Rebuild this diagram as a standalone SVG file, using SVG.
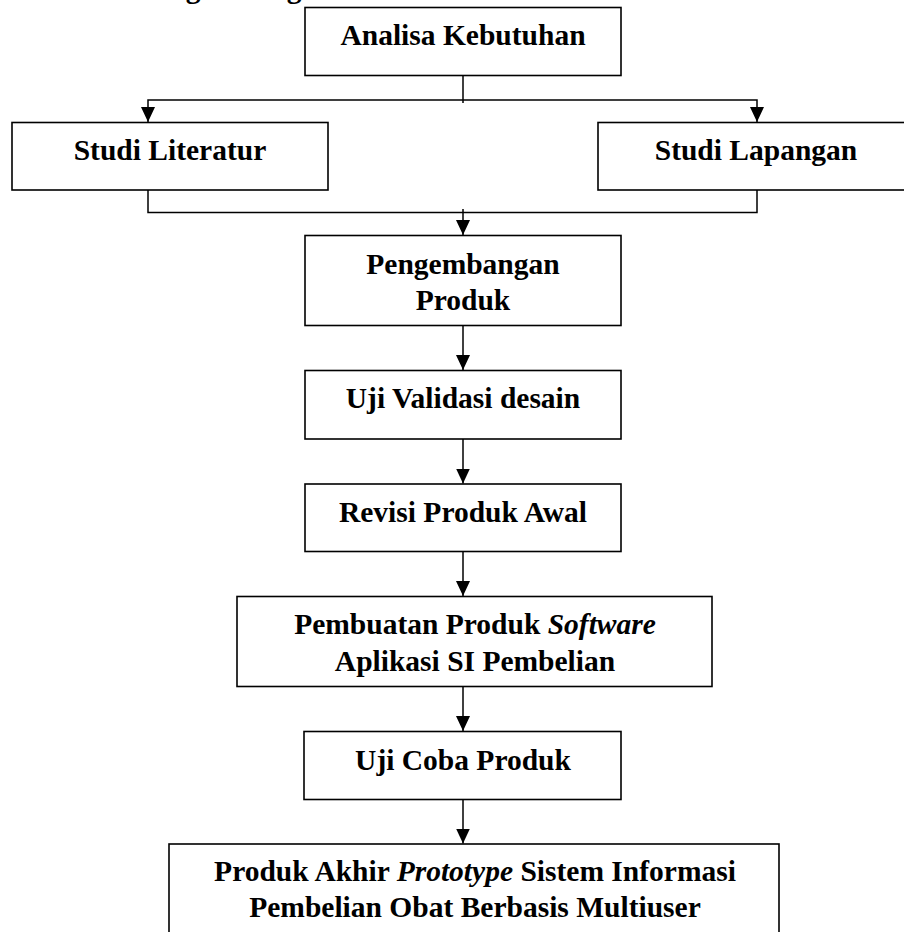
<svg xmlns="http://www.w3.org/2000/svg" width="904" height="932" viewBox="0 0 904 932">
  <style>
    .box { fill: #ffffff; stroke: #000000; stroke-width: 1.6; }
    .lbl { font-family: "Liberation Serif", "Times New Roman", serif; font-weight: bold; font-size: 29.5px; fill: #000000; text-anchor: middle; }
    .it { font-style: italic; }
    .wire { fill: none; stroke: #000000; stroke-width: 1.5; }
  </style>
  <defs>
    <marker id="arrow" viewBox="0 0 15 14" refX="15" refY="7" markerWidth="15" markerHeight="14" markerUnits="userSpaceOnUse" orient="auto">
      <path d="M0,0 L15,7 L0,14 z" fill="#000000"/>
    </marker>
  </defs>
  <rect width="904" height="932" fill="#ffffff"/>

  <!-- descenders of the heading line above the chart -->
  <g id="heading-tail">
    <text class="lbl" x="193" y="-2">g</text>
    <text class="lbl" x="294" y="-2">g</text>
  </g>

  <!-- connectors -->
  <g id="connectors">
    <path class="wire" d="M463,75.5 V103"/>
    <path class="wire" d="M463,100 H148 V122" marker-end="url(#arrow)"/>
    <path class="wire" d="M463,100 H757 V122" marker-end="url(#arrow)"/>
    <path class="wire" d="M148,190 V212.5 H757 V190"/>
    <path class="wire" d="M463,209 V235" marker-end="url(#arrow)"/>
    <path class="wire" d="M463,325.5 V370" marker-end="url(#arrow)"/>
    <path class="wire" d="M463,439 V483.5" marker-end="url(#arrow)"/>
    <path class="wire" d="M463,551.5 V596" marker-end="url(#arrow)"/>
    <path class="wire" d="M463,686.5 V731" marker-end="url(#arrow)"/>
    <path class="wire" d="M463,799.5 V843.5" marker-end="url(#arrow)"/>
  </g>

  <g id="analisa-kebutuhan">
    <rect class="box" x="305" y="7.5" width="316" height="68"/>
    <text class="lbl" x="463" y="45">Analisa Kebutuhan</text>
  </g>

  <g id="studi-literatur">
    <rect class="box" x="12" y="122.5" width="316" height="67.5"/>
    <text class="lbl" x="170" y="160">Studi Literatur</text>
  </g>

  <g id="studi-lapangan">
    <rect class="box" x="598" y="122.5" width="320" height="67.5"/>
    <text class="lbl" x="756" y="160">Studi Lapangan</text>
  </g>

  <g id="pengembangan-produk">
    <rect class="box" x="305" y="235.5" width="316" height="90"/>
    <text class="lbl" x="463" y="274">Pengembangan</text>
    <text class="lbl" x="463" y="310">Produk</text>
  </g>

  <g id="uji-validasi">
    <rect class="box" x="305" y="370.5" width="316" height="68.5"/>
    <text class="lbl" x="463" y="408">Uji Validasi desain</text>
  </g>

  <g id="revisi-produk">
    <rect class="box" x="305" y="484" width="316" height="67.5"/>
    <text class="lbl" x="463" y="522">Revisi Produk Awal</text>
  </g>

  <g id="pembuatan-produk">
    <rect class="box" x="237" y="596.5" width="475" height="90"/>
    <text class="lbl" x="475" y="634">Pembuatan Produk <tspan class="it">Software</tspan></text>
    <text class="lbl" x="475" y="671">Aplikasi SI Pembelian</text>
  </g>

  <g id="uji-coba">
    <rect class="box" x="304" y="731.5" width="317" height="68"/>
    <text class="lbl" x="463" y="770">Uji Coba Produk</text>
  </g>

  <g id="produk-akhir">
    <rect class="box" x="169" y="844" width="610" height="100"/>
    <text class="lbl" x="475" y="881">Produk Akhir <tspan class="it">Prototype</tspan> Sistem Informasi</text>
    <text class="lbl" x="475" y="917">Pembelian Obat Berbasis Multiuser</text>
  </g>
</svg>
